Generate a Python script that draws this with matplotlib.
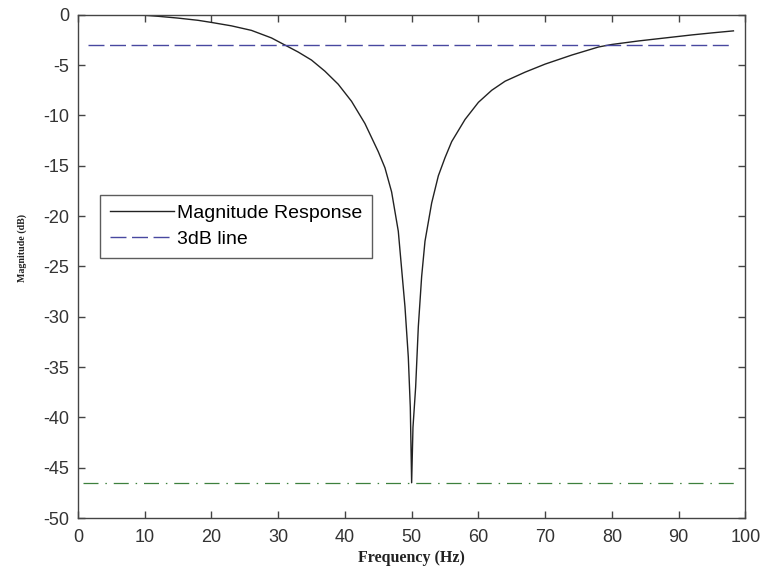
import numpy as np
import matplotlib.pyplot as plt

plt.rcParams["axes.unicode_minus"] = False

# magnitude response (Hz, dB)
freq = [9, 12, 15, 18, 20, 23, 26, 29, 31, 33, 35, 37, 39, 41, 43, 45, 46, 47,
        48, 49, 49.5, 49.8, 50, 50.2, 50.6, 51, 51.5, 52, 53, 54, 55, 56, 58,
        60, 62, 64, 67, 70, 74, 78, 80, 84, 88, 92, 95, 98.2]
mag_db = [0.0, -0.15, -0.33, -0.55, -0.76, -1.1, -1.55, -2.3, -3.0, -3.7, -4.5,
          -5.6, -6.9, -8.6, -10.8, -13.6, -15.2, -17.6, -21.5, -29.0, -34.0,
          -39.0, -46.5, -41.0, -37.0, -31.0, -26.0, -22.5, -18.7, -16.0, -14.2,
          -12.6, -10.4, -8.7, -7.5, -6.6, -5.7, -4.9, -4.0, -3.2, -2.95, -2.6,
          -2.3, -2.0, -1.8, -1.6]

db3_x = [1.5, 98.2]
db3_level = -3.0
min_x = [0.75, 98.3]
min_level = -46.5

xticks = list(range(0, 101, 10))
yticks = list(range(-50, 1, 5))

fig = plt.figure(figsize=(7.63, 5.68), dpi=100)
ax = fig.add_axes([0.102, 0.088, 0.875, 0.886])

ax.plot(freq, mag_db, color="#222222", lw=1.0, label="Magnitude Response")
ax.plot(db3_x, [db3_level, db3_level], color="#4848a0", lw=1.0,
        linestyle=(0, (11.5, 4)), label="3dB line")
ax.plot(min_x, [min_level, min_level], color="#3d803d", lw=0.9,
        linestyle=(0, (12, 5.5, 1.2, 5.5)))

ax.set_xlim(0, 100)
ax.set_ylim(-50, 0)
ax.set_xticks(xticks)
ax.set_yticks(yticks)
ax.tick_params(direction="in", top=True, right=True, length=5, width=1,
               color="#444444", labelsize=13, labelcolor="#333333")
ax.tick_params(axis="x", pad=8)
ax.tick_params(axis="y", pad=6)
for lab in ax.get_xticklabels() + ax.get_yticklabels():
    lab.set_family("Liberation Sans")
for s in ax.spines.values():
    s.set_color("#444444")
    s.set_linewidth(1.0)

ax.set_xlabel("Frequency (Hz)", family="Liberation Serif", fontweight="bold",
              fontsize=11.5, color="#222222", labelpad=3)
ax.set_ylabel("Magnitude (dB)", family="Liberation Serif", fontweight="bold",
              fontsize=7.2, color="#222222")
ax.yaxis.set_label_coords(-0.076, 0.537)

leg = ax.legend(loc="upper left", bbox_to_anchor=(0.033, 0.642),
                prop={"family": "Liberation Sans", "size": 14},
                frameon=True, fancybox=False, borderpad=0.5,
                handlelength=3.3, handletextpad=0.15, labelspacing=0.42,
                borderaxespad=0)
leg.get_frame().set_edgecolor("#333333")
leg.get_frame().set_linewidth(1.0)

fig.savefig("out.png", dpi=100)
